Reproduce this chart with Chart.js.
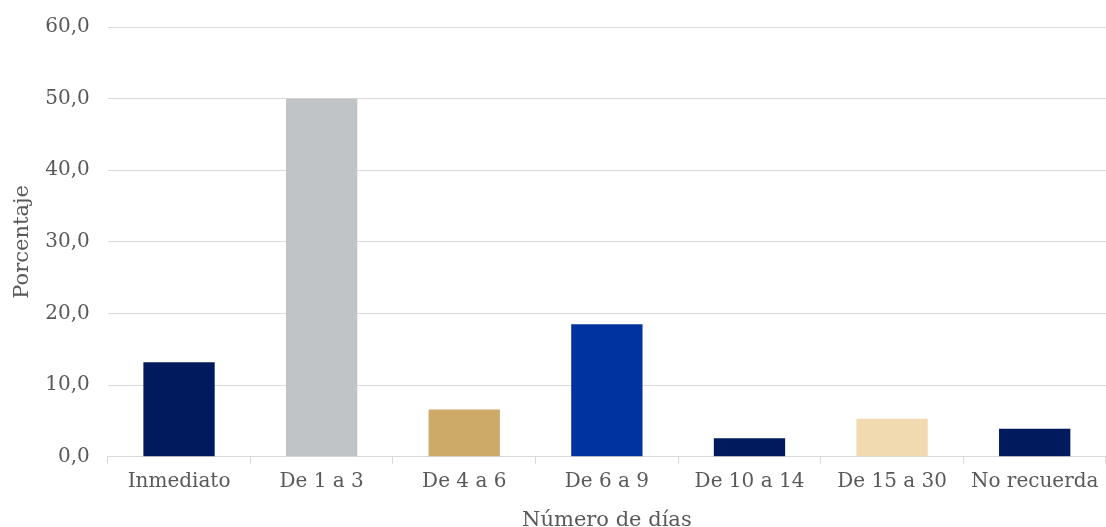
<!DOCTYPE html>
<html>
<head>
<meta charset="utf-8">
<script src="https://cdn.jsdelivr.net/npm/chart.js@4.4.0/dist/chart.umd.min.js"></script>
<style>
  html, body { margin: 0; padding: 0; background: #ffffff; }
  #wrap { width: 1106px; height: 527px; }
</style>
</head>
<body>
<div id="wrap"><canvas id="graficoDias"></canvas></div>
<script>
// categorias y porcentajes
const categorias = ['Inmediato', 'De 1 a 3', 'De 4 a 6', 'De 6 a 9', 'De 10 a 14', 'De 15 a 30', 'No recuerda'];
const porcentajes = [13.2, 50.0, 6.6, 18.5, 2.6, 5.3, 3.9];
const coloresBarras = ['#001A5E', '#C0C4C7', '#CDAA68', '#0033A0', '#001A5E', '#F2DAB0', '#001A5E'];

// eje y: 0 a 60 de 10 en 10
const yMin = 0;
const yMax = 60;
const yPaso = 10;

const fuente = "'DejaVu Serif', serif";
const gris = '#595959';

const ctx = document.getElementById('graficoDias').getContext('2d');

new Chart(ctx, {
    type: 'bar',
    data: {
        labels: categorias,
        datasets: [{
            data: porcentajes,
            backgroundColor: coloresBarras,
            borderWidth: 0,
            barPercentage: 0.5,
            categoryPercentage: 1.0
        }]
    },
    options: {
        responsive: true,
        maintainAspectRatio: false,
        animation: false,
        layout: { padding: { top: 4, right: 0, left: 0, bottom: 0 } },
        scales: {
            x: {
                grid: {
                    offset: true,
                    drawOnChartArea: false,
                    drawTicks: true,
                    tickLength: 7,
                    color: '#D9D9D9',
                    lineWidth: 1
                },
                border: { color: '#D9D9D9', width: 1 },
                ticks: {
                    color: gris,
                    font: { family: fuente, size: 20 },
                    padding: 6,
                    maxRotation: 0
                },
                title: {
                    display: true,
                    text: 'Número de días',
                    color: gris,
                    font: { family: fuente, size: 21 },
                    padding: { top: 8, bottom: -6 }
                }
            },
            y: {
                min: yMin,
                max: yMax,
                grid: {
                    color: '#D9D9D9',
                    lineWidth: 1,
                    drawTicks: false
                },
                border: { display: false },
                ticks: {
                    stepSize: yPaso,
                    color: gris,
                    // lineHeight reducido para que el 60,0 no empuje el area hacia abajo
                    font: { family: fuente, size: 20, lineHeight: 0.9 },
                    padding: 18,
                    callback: v => v.toFixed(1).replace('.', ',')
                },
                title: {
                    display: true,
                    text: 'Porcentaje',
                    color: gris,
                    font: { family: fuente, size: 21 },
                    padding: { top: 10, bottom: -8 }
                }
            }
        },
        plugins: {
            legend: { display: false },
            tooltip: { enabled: false }
        }
    }
});
</script>
</body>
</html>
